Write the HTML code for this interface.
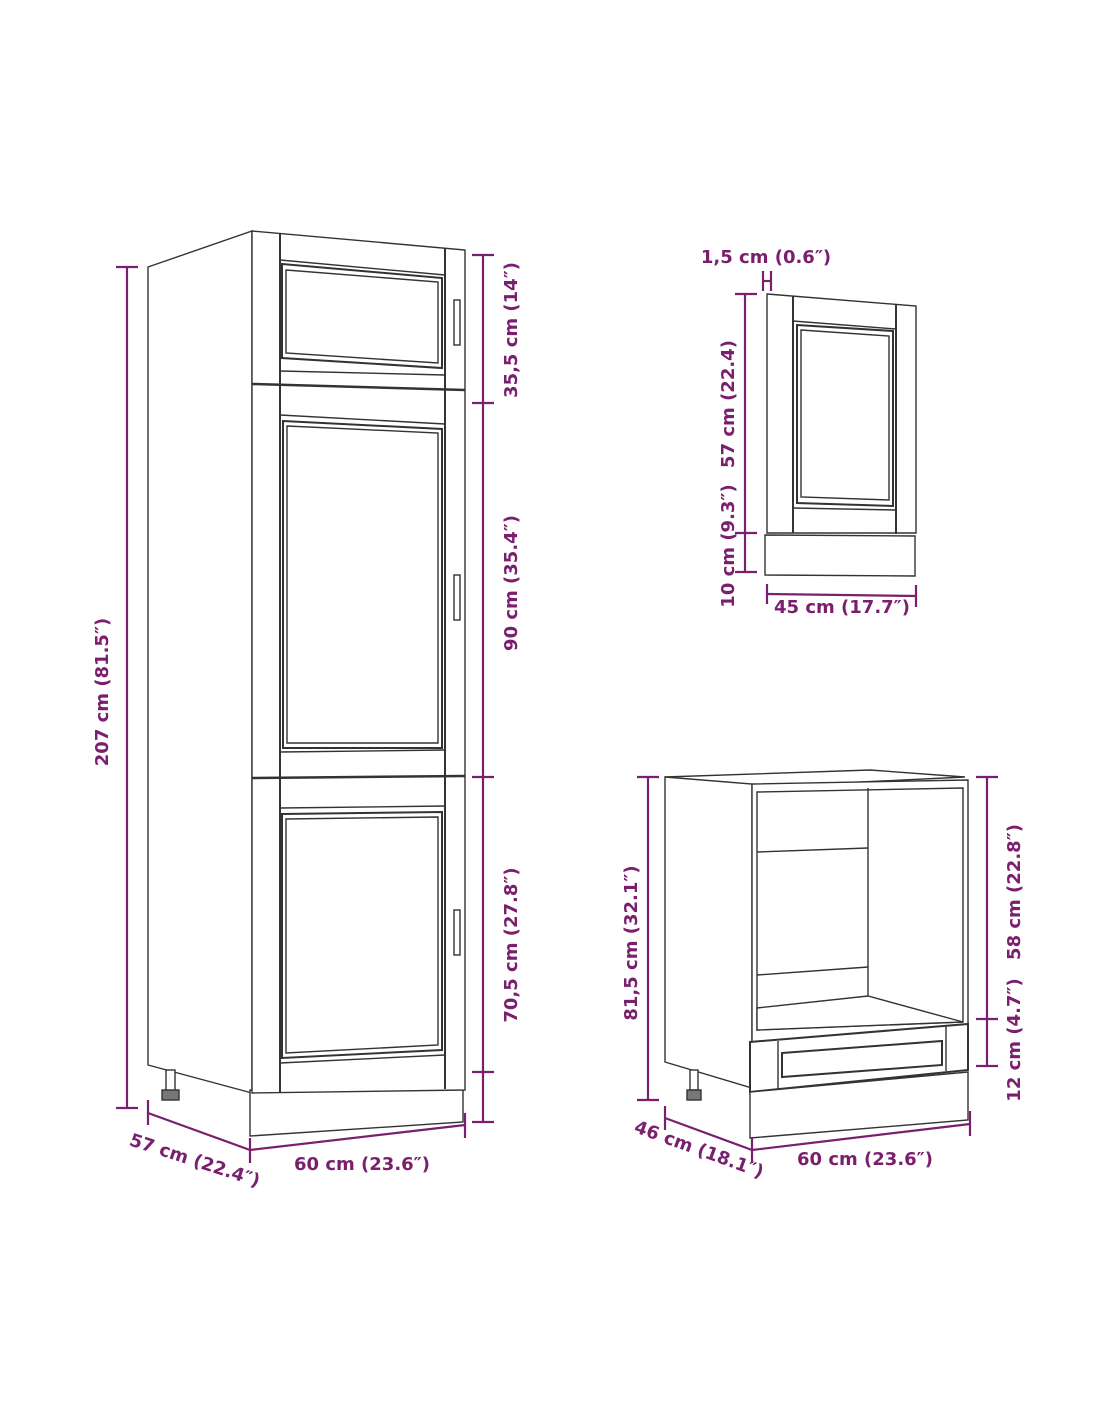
<!DOCTYPE html>
<html><head><meta charset="utf-8"><style>
html,body{margin:0;padding:0;background:#fff}
svg{display:block}
text{font-family:"DejaVu Sans","Liberation Sans",sans-serif;font-weight:bold;font-size:18px;fill:#7a1f6e}
</style></head><body>
<svg width="1100" height="1422" viewBox="0 0 1100 1422" xmlns="http://www.w3.org/2000/svg">
<g fill="#fff" stroke="#333" stroke-width="1.4">
<polygon points="148,267 252,231 252,1093 148,1065"/>
<polygon points="250,1090 463,1080 463,1122 250,1136"/>
<polygon points="252,231 465,250 465,1090 252,1093"/>
<line x1="280" y1="233" x2="280" y2="1092" stroke-width="2"/>
<line x1="445" y1="248" x2="445" y2="1089" stroke-width="2"/>
<line x1="252" y1="384" x2="465" y2="390" stroke-width="2.5"/>
<line x1="252" y1="778" x2="465" y2="776" stroke-width="2.5"/>
<line x1="280" y1="260" x2="445" y2="275"/>
<polygon points="282,264 442,278 442,368 282,358" stroke-width="2"/>
<polygon points="286,270 438,282 438,363 286,353"/>
<line x1="280" y1="371" x2="445" y2="375"/>
<line x1="280" y1="415" x2="445" y2="424"/>
<polygon points="283,421 442,429 442,748 283,748" stroke-width="2"/>
<polygon points="287,426 438,433 438,743 287,743"/>
<line x1="280" y1="752" x2="445" y2="750"/>
<line x1="280" y1="808" x2="445" y2="806"/>
<polygon points="282,814 442,812 442,1050 282,1058" stroke-width="2"/>
<polygon points="286,819 438,817 438,1045 286,1053"/>
<line x1="280" y1="1063" x2="445" y2="1055"/>
<rect x="454" y="300" width="6" height="45"/>
<rect x="454" y="575" width="6" height="45"/>
<rect x="454" y="910" width="6" height="45"/>
<rect x="166" y="1070" width="9" height="22"/>
<rect x="162" y="1090" width="17" height="10" fill="#777"/>
<polygon points="767,294 916,306 916,533 767,533"/>
<line x1="793" y1="296" x2="793" y2="533" stroke-width="2"/>
<line x1="896" y1="305" x2="896" y2="534" stroke-width="2"/>
<line x1="793" y1="321" x2="896" y2="329"/>
<polygon points="797,325 893,331 893,506 797,503" stroke-width="2"/>
<polygon points="801,330 889,336 889,500 801,497"/>
<line x1="793" y1="508" x2="896" y2="510"/>
<polygon points="765,535 915,536 915,576 765,575"/>
<polygon points="665,777 870,770 965,777 757,787"/>
<polygon points="665,777 752,784 752,1088 665,1062"/>
<polygon points="752,784 968,780 968,1070 752,1088"/>
<polygon points="757,792 963,788 963,1022 757,1030"/>
<line x1="868" y1="788" x2="868" y2="996"/>
<line x1="757" y1="852" x2="868" y2="848"/>
<line x1="757" y1="975" x2="868" y2="967"/>
<polygon points="757,1008 868,996 963,1022 757,1030"/>
<polygon points="750,1042 968,1024 968,1070 750,1092" stroke-width="2"/>
<line x1="778" y1="1041" x2="778" y2="1092"/>
<line x1="946" y1="1025" x2="946" y2="1071"/>
<polygon points="782,1053 942,1041 942,1065 782,1077" stroke-width="2"/>
<polygon points="750,1092 968,1072 968,1120 750,1138"/>
<rect x="690" y="1070" width="8" height="20"/>
<rect x="687" y="1090" width="14" height="10" fill="#777"/>
</g>
<g stroke="#7a1f6e" stroke-width="2.2" fill="none">
<line x1="127" y1="267" x2="127" y2="1108"/>
<line x1="116" y1="267" x2="138" y2="267"/><line x1="116" y1="1108" x2="138" y2="1108"/>
<line x1="483" y1="255" x2="483" y2="1122"/>
<line x1="472" y1="255" x2="494" y2="255"/><line x1="472" y1="403" x2="494" y2="403"/>
<line x1="472" y1="777" x2="494" y2="777"/><line x1="472" y1="1072" x2="494" y2="1072"/>
<line x1="472" y1="1122" x2="494" y2="1122"/>
<line x1="148" y1="1113" x2="250" y2="1150"/>
<line x1="148" y1="1100" x2="148" y2="1125"/>
<line x1="250" y1="1150" x2="465" y2="1125"/>
<line x1="250" y1="1138" x2="250" y2="1163"/><line x1="465" y1="1113" x2="465" y2="1138"/>
<line x1="745" y1="294" x2="745" y2="572"/>
<line x1="735" y1="294" x2="757" y2="294"/><line x1="735" y1="533" x2="757" y2="533"/><line x1="735" y1="572" x2="757" y2="572"/>
<line x1="763" y1="271" x2="763" y2="291"/><line x1="771" y1="271" x2="771" y2="291"/><line x1="763" y1="281" x2="771" y2="281"/>
<line x1="767" y1="594" x2="916" y2="596"/>
<line x1="767" y1="584" x2="767" y2="604"/><line x1="916" y1="585" x2="916" y2="607"/>
<line x1="648" y1="777" x2="648" y2="1100"/>
<line x1="637" y1="777" x2="659" y2="777"/><line x1="637" y1="1100" x2="659" y2="1100"/>
<line x1="987" y1="777" x2="987" y2="1066"/>
<line x1="976" y1="777" x2="998" y2="777"/><line x1="976" y1="1019" x2="998" y2="1019"/><line x1="976" y1="1066" x2="998" y2="1066"/>
<line x1="665" y1="1118" x2="752" y2="1150"/>
<line x1="665" y1="1106" x2="665" y2="1130"/>
<line x1="752" y1="1150" x2="970" y2="1124"/>
<line x1="752" y1="1138" x2="752" y2="1163"/><line x1="970" y1="1111" x2="970" y2="1136"/>
</g>
<text transform="translate(108,692) rotate(-90)" text-anchor="middle">207 cm (81.5″)</text>
<text transform="translate(517,330) rotate(-90)" text-anchor="middle">35,5 cm (14″)</text>
<text transform="translate(517,583) rotate(-90)" text-anchor="middle">90 cm (35.4″)</text>
<text transform="translate(517,945) rotate(-90)" text-anchor="middle">70,5 cm (27.8″)</text>
<text transform="translate(193,1166) rotate(18)" text-anchor="middle">57 cm (22.4″)</text>
<text x="362" y="1170" text-anchor="middle">60 cm (23.6″)</text>
<text x="766" y="263" text-anchor="middle">1,5 cm (0.6″)</text>
<text transform="translate(734,404) rotate(-90)" text-anchor="middle">57 cm (22.4)</text>
<text transform="translate(734,546) rotate(-90)" text-anchor="middle">10 cm (9.3″)</text>
<text x="842" y="613" text-anchor="middle">45 cm (17.7″)</text>
<text transform="translate(637,943) rotate(-90)" text-anchor="middle">81,5 cm (32.1″)</text>
<text transform="translate(1020,892) rotate(-90)" text-anchor="middle">58 cm (22.8″)</text>
<text transform="translate(1020,1040) rotate(-90)" text-anchor="middle">12 cm (4.7″)</text>
<text transform="translate(697,1155) rotate(20)" text-anchor="middle">46 cm (18.1″)</text>
<text x="865" y="1165" text-anchor="middle">60 cm (23.6″)</text>
</svg>
</body></html>
